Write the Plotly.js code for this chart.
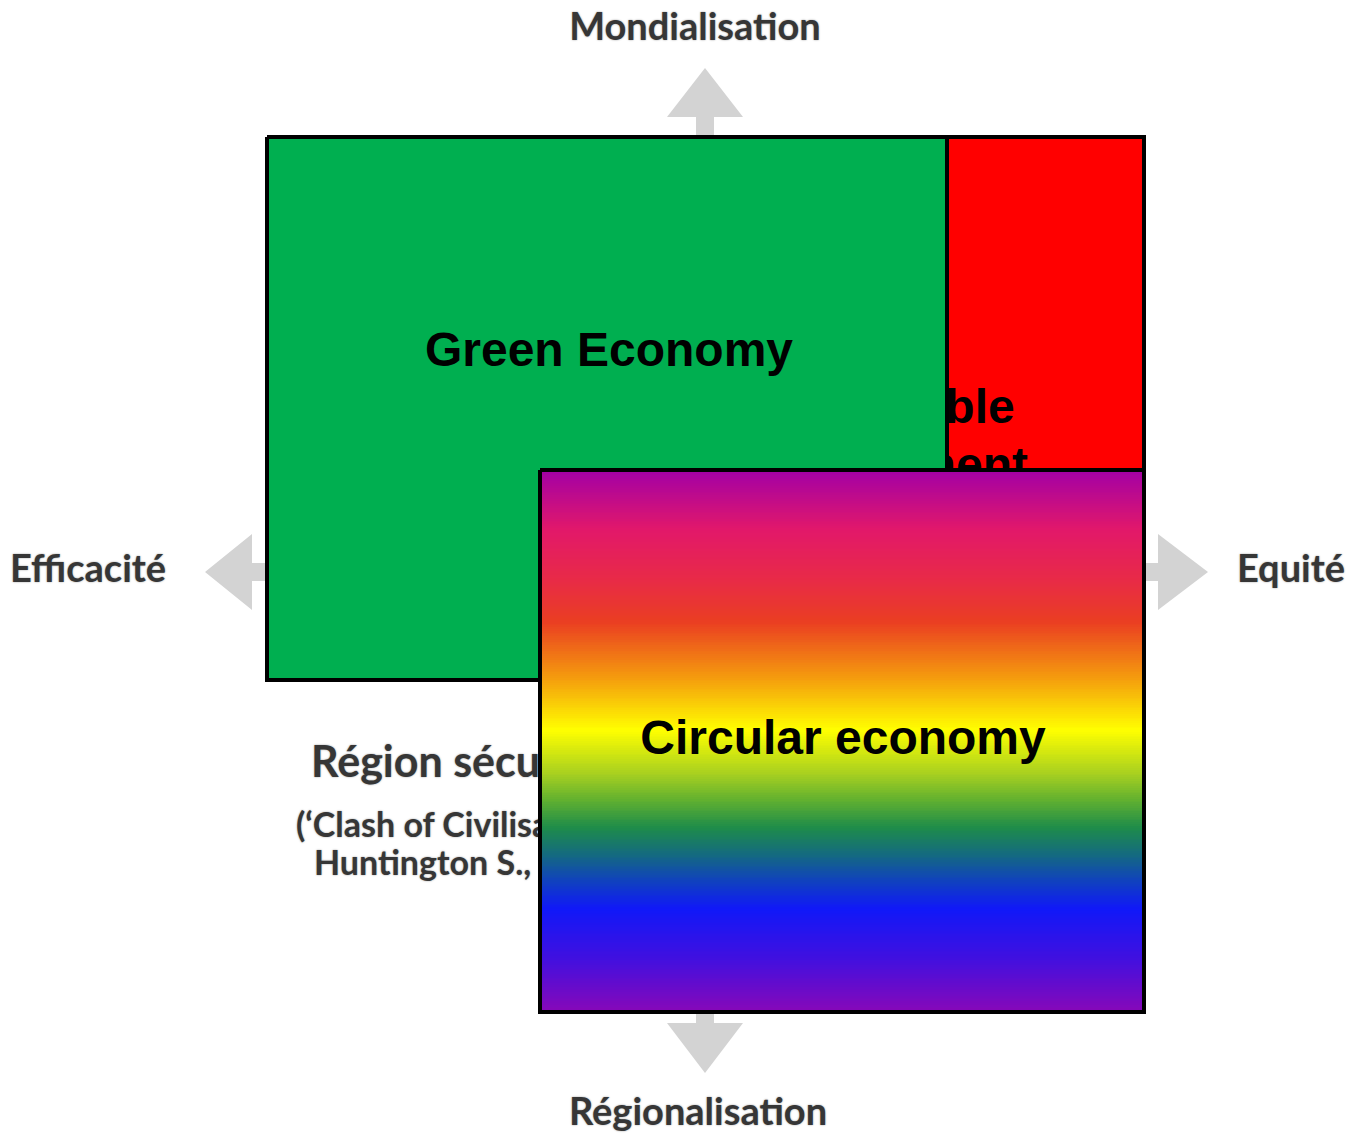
<!DOCTYPE html>
<html><head><meta charset="utf-8">
<script src="https://cdn.plot.ly/plotly-3.0.1.min.js"></script>
<style>html,body{margin:0;padding:0;background:#fff;overflow:hidden}</style>
</head><body><div id="chart" style="width:1351px;height:1133px"></div>
<script>
// ---- Data ----
// Axis direction labels
const axisLabels = ['Mondialisation', 'Efficacité', 'Equité', 'Régionalisation'];
const axisLabelX = [695, 88, 1291, 698];
const axisLabelY = [30, 572, 572, 1115];

// Arrows: tip point and direction
const arrowDir  = ['up', 'left', 'right', 'down'];
const arrowTipX = [705, 205, 1208, 705];
const arrowTipY = [68, 572, 572, 1073];
const arrowHead = [49, 47, 50, 50];

// Scenario text (partly hidden)
const sideLines = ['Région sécuritaire', '(‘Clash of Civilisations’,', 'Huntington S., 1996)'];
const sideLineX = [311, 296, 314];
const sideLineY = [766, 828, 866];

// Boxes: drawing order bottom -> top
const boxNames  = ['Sustainable development', 'Green Economy', 'Circular economy'];
const boxX0 = [700, 267, 540];
const boxX1 = [1144, 947, 1144];
const boxY0 = [137, 137, 470];
const boxY1 = [800, 680, 1012];
const boxFill = ['#FF0000', '#00AF50', null];
const boxTextLines = [['Sustainable', 'development'], ['Green Economy'], ['Circular economy']];
const boxTextX = [880, 609, 843];
const boxTextY = [[411, 469], [354], [742]];

// Rainbow gradient of the circular economy box (fraction from top, colour)
const gradStops  = [0, 0.11, 0.20, 0.28, 0.38, 0.48, 0.56, 0.61, 0.66, 0.71, 0.76, 0.81, 0.90, 1.0];
const gradColors = ['#A200A6', '#E2186A', '#E82A48', '#EA3E22', '#F4980E', '#FFFF00', '#A8D020',
                    '#60B030', '#1E8C4A', '#146A80', '#1040C0', '#1018F8', '#4010E0', '#8808B8'];

// ---- Build ----
const traces = [];
const arrowGray = '#D3D3D3';
const headHalf = 38, shaftHalf = 9, shaftLen = 30;

function arrowPoly(i) {
  const pts = [[0,0],[arrowHead[i],-headHalf],[arrowHead[i],-shaftHalf],[arrowHead[i]+shaftLen,-shaftHalf],
               [arrowHead[i]+shaftLen,shaftHalf],[arrowHead[i],shaftHalf],[arrowHead[i],headHalf],[0,0]];
  const xs = [], ys = [];
  pts.forEach(([a,c]) => {
    let dx, dy;
    if (arrowDir[i] === 'up')    { dx = c; dy = a; }
    if (arrowDir[i] === 'down')  { dx = c; dy = -a; }
    if (arrowDir[i] === 'left')  { dx = a; dy = c; }
    if (arrowDir[i] === 'right') { dx = -a; dy = c; }
    xs.push(arrowTipX[i] + dx); ys.push(arrowTipY[i] + dy);
  });
  return {xs, ys};
}

arrowDir.forEach((d, i) => {
  const p = arrowPoly(i);
  traces.push({type:'scatter', x:p.xs, y:p.ys, mode:'lines', fill:'toself',
    fillcolor:arrowGray, line:{width:0, color:arrowGray}, hoverinfo:'skip', showlegend:false,
    xaxis:'x', yaxis:'y'});
});

const grayFont = {family:'Lato, "Open Sans", sans-serif', weight:700, color:'#363636',
                  shadow:'0px 0px 2px #9a9a9a'};

traces.push({type:'scatter', mode:'text', x:axisLabelX, y:axisLabelY, text:axisLabels,
  textposition:'middle center', textfont:Object.assign({}, grayFont, {size:38}),
  hoverinfo:'skip', showlegend:false, xaxis:'x', yaxis:'y'});

traces.push({type:'scatter', mode:'text', x:sideLineX, y:sideLineY, text:sideLines,
  textposition:'middle right', textfont:Object.assign({}, grayFont, {size:[43, 34, 34]}),
  hoverinfo:'skip', showlegend:false, xaxis:'x', yaxis:'y'});

const boxFont = {family:'"Liberation Sans", Arial, sans-serif', weight:700, color:'#000000', size:48};

boxNames.forEach((name, i) => {
  const onTop = (i === 2);
  const xa = onTop ? 'x2' : 'x', ya = onTop ? 'y2' : 'y';
  const bx = [boxX0[i], boxX1[i], boxX1[i], boxX0[i], boxX0[i]];
  const by = [boxY0[i], boxY0[i], boxY1[i], boxY1[i], boxY0[i]];
  if (boxFill[i]) {
    traces.push({type:'scatter', x:bx, y:by, mode:'lines', fill:'toself', fillcolor:boxFill[i],
      line:{color:'#000', width:4}, hoverinfo:'skip', showlegend:false, xaxis:xa, yaxis:ya});
  } else {
    const n = 300;
    const yEdges = [], zRows = [];
    for (let k = 0; k <= n; k++) yEdges.push(boxY0[i] + (boxY1[i]-boxY0[i]) * k / n);
    for (let k = 0; k < n; k++) zRows.push([(k + 0.5) / n]);
    traces.push({type:'heatmap', x:[boxX0[i], boxX1[i]], y:yEdges, z:zRows,
      colorscale: gradStops.map((s, j) => [s, gradColors[j]]), zmin:0, zmax:1,
      showscale:false, hoverinfo:'skip', xaxis:xa, yaxis:ya});
    traces.push({type:'scatter', x:bx, y:by, mode:'lines', line:{color:'#000', width:4},
      hoverinfo:'skip', showlegend:false, xaxis:xa, yaxis:ya});
  }
  traces.push({type:'scatter', mode:'text',
    x:boxTextLines[i].map(() => boxTextX[i]), y:boxTextY[i], text:boxTextLines[i],
    textposition:'middle center', textfont:boxFont, hoverinfo:'skip', showlegend:false,
    xaxis:xa, yaxis:ya});
});

const ax = {range:[0,1351], visible:false, fixedrange:true, showgrid:false, zeroline:false};
const ay = {range:[1133,0], visible:false, fixedrange:true, showgrid:false, zeroline:false};
const layout = {
  width:1351, height:1133, margin:{l:0, r:0, t:0, b:0},
  paper_bgcolor:'#ffffff', plot_bgcolor:'#ffffff', showlegend:false,
  xaxis:Object.assign({}, ax), yaxis:Object.assign({}, ay),
  xaxis2:Object.assign({}, ax, {overlaying:'x'}), yaxis2:Object.assign({}, ay, {overlaying:'y'})
};
Plotly.newPlot('chart', traces, layout, {staticPlot:true, displayModeBar:false});
</script>
</body></html>
